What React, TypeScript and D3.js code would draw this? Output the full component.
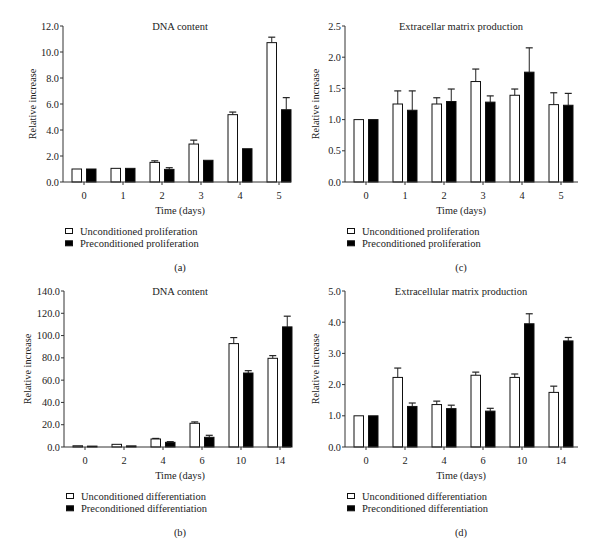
import React, { useEffect, useRef } from 'react';
import * as d3 from 'd3';

// time points
const prolifDays = ['0', '1', '2', '3', '4', '5'];
const diffDays = ['0', '2', '4', '6', '10', '14'];

// (a) DNA content, proliferation
const dnaProlifUncond = [1.0, 1.05, 1.51, 2.92, 5.18, 10.72];
const dnaProlifUncondErr = [0, 0, 0.12, 0.3, 0.2, 0.42];
const dnaProlifPrecond = [1.0, 1.05, 0.97, 1.67, 2.56, 5.56];
const dnaProlifPrecondErr = [0, 0, 0.13, 0, 0, 0.93];

// (c) ECM production, proliferation
const ecmProlifUncond = [1.0, 1.25, 1.25, 1.61, 1.39, 1.24];
const ecmProlifUncondErr = [0, 0.21, 0.1, 0.2, 0.1, 0.19];
const ecmProlifPrecond = [1.0, 1.15, 1.29, 1.28, 1.76, 1.23];
const ecmProlifPrecondErr = [0, 0.31, 0.2, 0.1, 0.39, 0.19];

// (b) DNA content, differentiation
const dnaDiffUncond = [1.1, 2.4, 7.2, 21.3, 92.8, 79.6];
const dnaDiffUncondErr = [0, 0, 0.5, 1.2, 5.4, 2.4];
const dnaDiffPrecond = [0.8, 1.0, 4.2, 8.7, 66.4, 107.8];
const dnaDiffPrecondErr = [0, 0, 0.6, 1.8, 2.1, 9.6];

// (d) ECM production, differentiation
const ecmDiffUncond = [1.0, 2.23, 1.36, 2.3, 2.23, 1.75];
const ecmDiffUncondErr = [0, 0.3, 0.11, 0.1, 0.11, 0.2];
const ecmDiffPrecond = [1.0, 1.3, 1.23, 1.15, 3.95, 3.4];
const ecmDiffPrecondErr = [0, 0.11, 0.11, 0.09, 0.32, 0.11];

const prolifLegend = ['Unconditioned proliferation', 'Preconditioned proliferation'];
const diffLegend = ['Unconditioned differentiation', 'Preconditioned differentiation'];

const panels = [
  {
    id: 'a', oy: 0, axisX: 63, axisEnd: 291, labelX: 32,
    title: 'DNA content', days: prolifDays, yMax: 12, yStep: 2,
    uncond: dnaProlifUncond, uncondErr: dnaProlifUncondErr,
    precond: dnaProlifPrecond, precondErr: dnaProlifPrecondErr,
    legend: prolifLegend, titleX: 180,
  },
  {
    id: 'c', oy: 0, axisX: 345, axisEnd: 578, labelX: 315,
    title: 'Extracellar matrix production', days: prolifDays, yMax: 2.5, yStep: 0.5,
    uncond: ecmProlifUncond, uncondErr: ecmProlifUncondErr,
    precond: ecmProlifPrecond, precondErr: ecmProlifPrecondErr,
    legend: prolifLegend, titleX: 461,
  },
  {
    id: 'b', oy: 265, axisX: 64, axisEnd: 291, labelX: 27,
    title: 'DNA content', days: diffDays, yMax: 140, yStep: 20,
    uncond: dnaDiffUncond, uncondErr: dnaDiffUncondErr,
    precond: dnaDiffPrecond, precondErr: dnaDiffPrecondErr,
    legend: diffLegend, titleX: 180,
  },
  {
    id: 'd', oy: 265, axisX: 345, axisEnd: 578, labelX: 315,
    title: 'Extracellular matrix production', days: diffDays, yMax: 5, yStep: 1,
    uncond: ecmDiffUncond, uncondErr: ecmDiffUncondErr,
    precond: ecmDiffPrecond, precondErr: ecmDiffPrecondErr,
    legend: diffLegend, titleX: 461,
  },
];

const FONT = '"Liberation Serif", "Times New Roman", serif';
const INK = '#222';

const App = () => {
  const svgRef = useRef<SVGSVGElement>(null);

  useEffect(() => {
    const root = d3.select(svgRef.current);
    root.selectAll('*').remove();

    const top = 26;
    const bottom = 182;

    const label = (g: any, x: number, y: number, size: number, txt: string, anchor = 'middle') =>
      g.append('text')
        .attr('x', x).attr('y', y)
        .attr('dy', '0.35em')
        .attr('text-anchor', anchor)
        .attr('font-size', size)
        .attr('font-family', FONT)
        .attr('fill', INK)
        .text(txt);

    panels.forEach(p => {
      const g = root.append('g').attr('transform', `translate(0,${p.oy})`);

      const y = d3.scaleLinear().domain([0, p.yMax]).range([bottom, top]);
      const x = d3.scaleBand<string>()
        .domain(p.days)
        .range([p.axisX + 1.5, p.axisX + 1.5 + 39 * 6])
        .padding(0);
      const cx = (d: string) => (x(d) as number) + x.bandwidth() / 2;
      const barW = 10.5;
      const gap = 2;

      // bars + error bars (upper only)
      const series = [
        { vals: p.uncond, errs: p.uncondErr, fill: '#fff', off: -gap - barW },
        { vals: p.precond, errs: p.precondErr, fill: '#000', off: gap },
      ];
      series.forEach(s => {
        p.days.forEach((d, i) => {
          const x0 = cx(d) + s.off;
          const v = s.vals[i];
          const e = s.errs[i];
          if (e > 0) {
            const mid = x0 + barW / 2;
            g.append('line')
              .attr('x1', mid).attr('x2', mid)
              .attr('y1', y(v)).attr('y2', y(v + e))
              .attr('stroke', INK).attr('stroke-width', 1);
            g.append('line')
              .attr('x1', mid - 3.5).attr('x2', mid + 3.5)
              .attr('y1', y(v + e)).attr('y2', y(v + e))
              .attr('stroke', INK).attr('stroke-width', 1.2);
          }
          g.append('rect')
            .attr('x', x0 + 0.5)
            .attr('y', y(v))
            .attr('width', barW - 1)
            .attr('height', y(0) - y(v))
            .attr('fill', s.fill)
            .attr('stroke', '#111')
            .attr('stroke-width', 1);
        });
      });

      // y axis
      const ticks = d3.range(0, p.yMax + p.yStep / 2, p.yStep);
      g.append('line')
        .attr('x1', p.axisX).attr('x2', p.axisX)
        .attr('y1', top).attr('y2', bottom)
        .attr('stroke', '#333');
      ticks.forEach(t => {
        g.append('line')
          .attr('x1', p.axisX - 3).attr('x2', p.axisX)
          .attr('y1', y(t)).attr('y2', y(t))
          .attr('stroke', '#333');
        label(g, p.axisX - 4, y(t), 10.3, d3.format('.1f')(t), 'end');
      });

      // x axis
      g.append('line')
        .attr('x1', p.axisX).attr('x2', p.axisEnd)
        .attr('y1', bottom).attr('y2', bottom)
        .attr('stroke', '#333');
      p.days.forEach(d => {
        g.append('line')
          .attr('x1', cx(d)).attr('x2', cx(d))
          .attr('y1', bottom).attr('y2', bottom + 3)
          .attr('stroke', '#333');
        label(g, cx(d), bottom + 13, 10.3, d);
      });

      label(g, p.titleX, top, 10.5, p.title);
      label(g, p.titleX, 210, 10.3, 'Time (days)');
      label(g, p.titleX, 267, 10.5, `(${p.id})`);

      g.append('text')
        .attr('transform', `translate(${p.labelX},${(top + bottom) / 2}) rotate(-90)`)
        .attr('dy', '0.35em')
        .attr('text-anchor', 'middle')
        .attr('font-size', 10.3)
        .attr('font-family', FONT)
        .attr('fill', INK)
        .text('Relative increase');

      // legend
      p.legend.forEach((lbl, i) => {
        const ly = 231 + i * 12.3;
        g.append('rect')
          .attr('x', p.axisX + 2.5).attr('y', ly - 2.5)
          .attr('width', 7).attr('height', 5)
          .attr('fill', i === 0 ? '#fff' : '#000')
          .attr('stroke', '#111');
        label(g, p.axisX + 17, ly, 10.5, lbl, 'start');
      });
    });
  }, []);

  return (
    <div style={{ position: 'absolute', left: 0, top: 0, width: 600, height: 559, background: '#fff' }}>
      <svg ref={svgRef} width={600} height={559} style={{ display: 'block' }} />
    </div>
  );
};

export default App;
